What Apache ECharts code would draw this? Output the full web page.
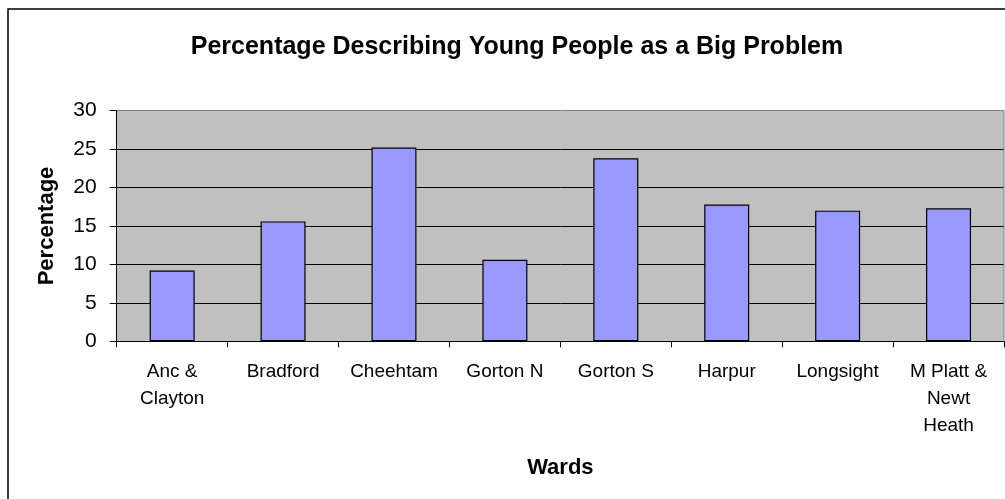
<!DOCTYPE html>
<html>
<head>
<meta charset="utf-8">
<script src="https://cdn.jsdelivr.net/npm/echarts@6/dist/echarts.min.js"></script>
<style>
   html, body { margin: 0; padding: 0; background: #fff; }
   #chartWrapper { width: 1005px; height: 499px; }
</style>
</head>
<body>
<div id="chartWrapper"></div>
<script>
var wards = ['Anc &\nClayton', 'Bradford', 'Cheehtam', 'Gorton N', 'Gorton S', 'Harpur', 'Longsight', 'M Platt &\nNewt\nHeath'];
var percentages = [9.2, 15.6, 25.2, 10.6, 23.8, 17.8, 17.0, 17.3];
var yTicks = [0, 5, 10, 15, 20, 25, 30];

var fontName = '"Liberation Sans", Arial, sans-serif';

var renderChart = function() {
   var iChart = echarts.init(document.getElementById('chartWrapper'));

   // gridlines black, the top one sits on the grey plot border
   var splitColors = [];
   for(var i = 0; i < yTicks.length; i++) {
      splitColors.push(i == yTicks.length - 1 ? '#808080' : '#000000');
   }

   var option = {
      animation: false,
      backgroundColor: '#ffffff',
      textStyle: {
         fontFamily: fontName
      },
      title: {
         text: 'Percentage Describing Young People as a Big Problem',
         left: 512,
         top: 30,
         textAlign: 'center',
         textStyle: {
            fontFamily: fontName,
            fontSize: 25,
            fontWeight: 'bold',
            color: '#000'
         }
      },
      graphic: [{
         type: 'rect',
         z: -10,
         shape: { x: 8, y: 9, width: 1100, height: 600 },
         style: { fill: 'none', stroke: '#000', lineWidth: 1.5 }
      }, {
         type: 'line',
         z: 10,
         shape: { x1: 1004, y1: 110.7, x2: 1004, y2: 341.3 },
         style: { stroke: '#808080', lineWidth: 1 }
      }],
      grid: {
         left: 116.7,
         top: 110.7,
         right: 1,
         bottom: 157.7,
         show: true,
         backgroundColor: '#c0c0c0',
         borderWidth: 0
      },
      xAxis: {
         type: 'category',
         data: wards,
         name: 'Wards',
         nameLocation: 'middle',
         nameGap: 116,
         nameTextStyle: {
            fontFamily: fontName,
            fontSize: 22,
            fontWeight: 'bold',
            color: '#000',
            verticalAlign: 'top'
         },
         axisLine: {
            lineStyle: { color: '#000', width: 1 }
         },
         axisTick: {
            show: true,
            length: 6,
            lineStyle: { color: '#000' }
         },
         axisLabel: {
            interval: 0,
            margin: 17,
            fontSize: 19,
            lineHeight: 27,
            color: '#000',
            align: 'center'
         }
      },
      yAxis: {
         type: 'value',
         min: 0,
         max: 30,
         interval: 5,
         name: 'Percentage',
         nameLocation: 'middle',
         nameGap: 59,
         nameRotate: 90,
         nameTextStyle: {
            fontFamily: fontName,
            fontSize: 22,
            fontWeight: 'bold',
            color: '#000'
         },
         axisLine: {
            show: true,
            lineStyle: { color: '#000', width: 1 }
         },
         axisTick: {
            show: true,
            length: 7,
            lineStyle: { color: '#000' }
         },
         axisLabel: {
            margin: 20,
            fontSize: 21,
            color: '#000',
            formatter: function(v) {
               return yTicks.indexOf(v) >= 0 ? String(v) : '';
            }
         },
         splitLine: {
            show: true,
            lineStyle: { color: splitColors, width: 1 }
         }
      },
      series: [{
         type: 'bar',
         data: percentages,
         barWidth: 45,
         itemStyle: {
            color: '#9999ff',
            borderColor: '#000',
            borderWidth: 1.2
         }
      }]
   };

   iChart.setOption(option);
};

renderChart();
</script>
</body>
</html>
